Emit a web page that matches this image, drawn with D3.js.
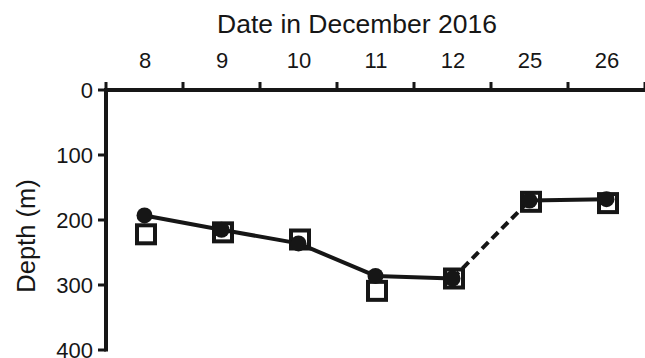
<!DOCTYPE html>
<html>
<head>
<meta charset="utf-8">
<script src="https://cdn.jsdelivr.net/npm/d3@7"></script>
<style>
  html, body { margin: 0; padding: 0; background: #fff; }
  svg { display: block; font-family: "Liberation Sans", Arial, sans-serif; }
</style>
</head>
<body>
<svg id="chart" width="645" height="358"></svg>
<script>
// Dive-depth record, December 2016
const dates = ["8", "9", "10", "11", "12", "25", "26"];
const depthCircle = [193, 215, 236, 286, 290, 170, 168];   // filled circles, joined by the line
const depthSquare = [222, 219, 230, 309, 290, 172, 174];   // open squares
const depthTicks = [0, 100, 200, 300, 400];
// segment styles between consecutive dates (dashed across the gap 12 -> 25)
const segmentDashed = [false, false, false, false, true, false];

const ink = "#161616";
const svg = d3.select("#chart");

const x = d3.scaleBand().domain(dates).range([106, 645]).paddingInner(0).paddingOuter(0);
const y = d3.scaleLinear().domain([0, 400]).range([90, 350]);
const cx = d => x(d) + x.bandwidth() / 2;

// top axis: ticks sit on the band boundaries and point upward
const boundaries = dates.map(d => x(d)).concat([x.range()[1]]);
const topAxis = svg.append("g");
topAxis.append("line")
  .attr("x1", 104).attr("x2", 645)
  .attr("y1", y(0)).attr("y2", y(0))
  .attr("stroke", ink).attr("stroke-width", 4);
topAxis.selectAll("line.tick").data(boundaries).join("line")
  .attr("class", "tick")
  .attr("x1", d => d).attr("x2", d => d)
  .attr("y1", y(0)).attr("y2", y(0) - 8)
  .attr("stroke", ink).attr("stroke-width", 3);
topAxis.selectAll("text.lab").data(dates).join("text")
  .attr("class", "lab")
  .attr("x", d => cx(d) + 0.5).attr("y", 68)
  .attr("text-anchor", "middle")
  .attr("font-size", 22).attr("fill", ink)
  .text(d => d);
svg.append("text")
  .attr("x", 357).attr("y", 33)
  .attr("text-anchor", "middle")
  .attr("font-size", 26.5).attr("fill", ink)
  .text("Date in December 2016");

// left axis
const leftAxis = svg.append("g");
leftAxis.append("line")
  .attr("x1", 106).attr("x2", 106)
  .attr("y1", y(0) - 1).attr("y2", y(400) + 1.5)
  .attr("stroke", ink).attr("stroke-width", 4);
leftAxis.selectAll("line.tick").data(depthTicks).join("line")
  .attr("class", "tick")
  .attr("x1", 98).attr("x2", 106)
  .attr("y1", d => y(d)).attr("y2", d => y(d))
  .attr("stroke", ink).attr("stroke-width", 3);
leftAxis.selectAll("text.lab").data(depthTicks).join("text")
  .attr("class", "lab")
  .attr("x", 93).attr("y", d => y(d))
  .attr("dy", "0.36em")
  .attr("text-anchor", "end")
  .attr("font-size", 22).attr("fill", ink)
  .text(d => d);
svg.append("text")
  .attr("transform", "translate(35,236) rotate(-90)")
  .attr("text-anchor", "middle")
  .attr("font-size", 25.5).attr("fill", ink)
  .text("Depth (m)");

// open squares
svg.append("g").selectAll("rect").data(dates).join("rect")
  .attr("x", d => cx(d) + 1.5 - 9)
  .attr("y", (d, i) => y(depthSquare[i]) - 9)
  .attr("width", 18).attr("height", 18)
  .attr("fill", "#fff")
  .attr("stroke", ink).attr("stroke-width", 4);

// connecting line, one segment per pair of dates
const segs = d3.range(dates.length - 1);
svg.append("g").selectAll("line").data(segs).join("line")
  .attr("x1", i => cx(dates[i])).attr("y1", i => y(depthCircle[i]))
  .attr("x2", i => cx(dates[i + 1])).attr("y2", i => y(depthCircle[i + 1]))
  .attr("stroke", ink).attr("stroke-width", 4)
  .attr("stroke-dasharray", i => segmentDashed[i] ? "9,5" : null);

// filled circles
svg.append("g").selectAll("circle").data(dates).join("circle")
  .attr("cx", d => cx(d))
  .attr("cy", (d, i) => y(depthCircle[i]))
  .attr("r", 8)
  .attr("fill", ink);
</script>
</body>
</html>
